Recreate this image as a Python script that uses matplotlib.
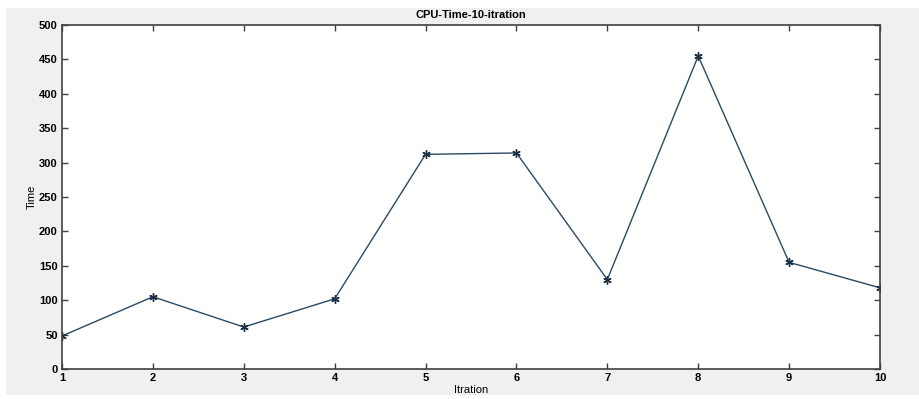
import matplotlib
matplotlib.use("Agg")
import matplotlib.pyplot as plt
from matplotlib.patches import Rectangle

iterations = [1, 2, 3, 4, 5, 6, 7, 8, 9, 10]
cpu_time = [48, 105, 61, 102, 312, 314, 130, 455, 155, 118]
y_ticks = [0, 50, 100, 150, 200, 250, 300, 350, 400, 450, 500]

plt.rcParams['font.family'] = ['Liberation Sans', 'DejaVu Sans']

fig = plt.figure(figsize=(9.2, 3.99), dpi=100, facecolor='white')
# matlab-ish gray figure area, kept behind the axes
fig.patches.append(Rectangle((6 / 920, 4 / 399), 914 / 920, 387 / 399,
                             transform=fig.transFigure, facecolor='#f0f0f0',
                             edgecolor='none', zorder=-10))

ax = fig.add_axes([62 / 920, 30 / 399, 818 / 920, 344 / 399])
ax.set_zorder(1)
ax.plot(iterations, cpu_time, color='#2a4a64', linewidth=1.0)
# matlab style asterisk marker
ax.plot(iterations, cpu_time, linestyle='none', marker=(6, 2, 0),
        markersize=6, markeredgewidth=1.0, color='#1c2f45')

ax.set_xlim(1, 10)
ax.set_ylim(0, 500)
ax.set_xticks(iterations)
ax.set_yticks(y_ticks)
ax.tick_params(direction='in', top=True, right=True, length=4, width=1,
               labelsize=8, pad=3, color='#404040')
for lbl in ax.get_xticklabels() + ax.get_yticklabels():
    lbl.set_fontweight('bold')
for s in ax.spines.values():
    s.set_color('#404040')
    s.set_linewidth(1.2)

ax.set_title('CPU-Time-10-itration', fontsize=8, fontweight='bold', pad=5)
ax.set_xlabel('Itration', fontsize=8, labelpad=1)
ax.set_ylabel('Time', fontsize=8, labelpad=2)

fig.savefig('out.png', dpi=100, facecolor=fig.get_facecolor())
